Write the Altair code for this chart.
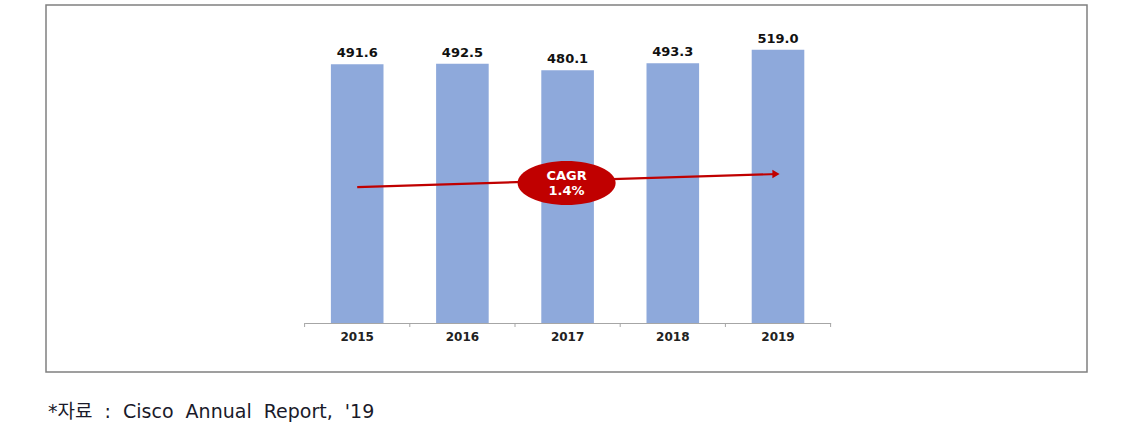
import altair as alt
import pandas as pd

years = ["2015", "2016", "2017", "2018", "2019"]
values = [491.6, 492.5, 480.1, 493.3, 519.0]
value_labels = ["491.6", "492.5", "480.1", "493.3", "519.0"]

arrow_years = ["2015", "2019"]
arrow_values = [258, 283]

cagr_years = ["2017"]
cagr_values = [266]
cagr_texts = ["CAGR\n1.4%"]

source_note = "*자료 : Cisco Annual Report, '19"

bars_df = pd.DataFrame({"year": years, "value": values, "label": value_labels})
arrow_df = pd.DataFrame({"year": arrow_years, "v": arrow_values})
head_df = pd.DataFrame({"year": arrow_years[-1:], "v": arrow_values[-1:]})
cagr_df = pd.DataFrame({"year": cagr_years, "v": cagr_values, "t": cagr_texts})
tick_df = pd.DataFrame({"year": years})
last_tick_df = pd.DataFrame({"year": years[-1:]})
one = pd.DataFrame({"a": [0]})
# wide word spacing as in the original (non-breaking spaces keep the gaps)
note_df = pd.DataFrame({"t": [source_note.replace(" ", "\u00a0\u00a0")]})

step = (830.6 - 304.6) / len(years)
xscale = alt.Scale(domain=years, range=[304.6, 830.6], paddingInner=0.5, paddingOuter=0.25)
yscale = alt.Scale(domain=[0, 613.5])

xaxis = alt.Axis(title=None, labelFont="DejaVu Sans", labelFontWeight="bold",
                 labelFontSize=12, labelColor="#222222", labelAngle=0,
                 domainColor="#a6a6a6", ticks=False, labelPadding=8, grid=False)

X = alt.X("year:N", scale=xscale, axis=xaxis, sort=years)
Y = lambda f: alt.Y(f, scale=yscale, axis=None)

frame = alt.Chart(one).mark_rect(fillOpacity=0, stroke="#808080", strokeWidth=1.5).encode(
    x=alt.value(46), x2=alt.value(1087), y=alt.value(5), y2=alt.value(372)
)

bars = alt.Chart(bars_df).mark_bar(color="#8EA9DB").encode(x=X, y=Y("value:Q"))

ticks = alt.Chart(tick_df).mark_rule(color="#a6a6a6", strokeWidth=1, xOffset=-step / 2).encode(
    x=X, y=alt.value(323), y2=alt.value(327)
)
last_tick = alt.Chart(last_tick_df).mark_rule(color="#a6a6a6", strokeWidth=1, xOffset=step / 2).encode(
    x=X, y=alt.value(323), y2=alt.value(327)
)

labels = alt.Chart(bars_df).mark_text(
    font="DejaVu Sans", fontWeight="bold", fontSize=13, color="#111111",
    baseline="bottom", dy=-4
).encode(x=X, y=Y("value:Q"), text="label:N")

arrow = alt.Chart(arrow_df).mark_line(color="#C00000", strokeWidth=2.2).encode(
    x=X, y=Y("v:Q")
)

head = alt.Chart(head_df).mark_point(
    shape="triangle-right", filled=True, color="#C00000", size=70, opacity=1, xOffset=-2
).encode(x=X, y=Y("v:Q"))

ellipse_path = "M -1 0 A 1 0.45 0 1 1 1 0 A 1 0.45 0 1 1 -1 0 Z"
ellipse = alt.Chart(cagr_df).mark_point(
    shape=ellipse_path, filled=True, color="#C00000", size=9604, opacity=1, xOffset=-1
).encode(x=X, y=Y("v:Q"))

cagr_text = alt.Chart(cagr_df).mark_text(
    font="DejaVu Sans", fontWeight="bold", fontSize=13, color="white",
    lineBreak="\n", lineHeight=15, baseline="middle", dy=-7, xOffset=-1
).encode(x=X, y=Y("v:Q"), text="t:N")

note = alt.Chart(note_df).mark_text(
    font="DejaVu Sans, Noto Sans CJK KR", fontSize=19, color="#1a1a2a",
    align="left", baseline="middle"
).encode(x=alt.value(48), y=alt.value(412), text="t:N")

chart = alt.layer(frame, bars, ticks, last_tick, labels, arrow, head, ellipse, cagr_text, note).properties(
    width=1121, height=323,
    autosize=alt.AutoSizeParams(type="none"),
    padding={"left": 0, "top": 0, "right": 0, "bottom": 123},
).configure_view(stroke=None)

chart.save("out.html", embed_options={"renderer": "svg", "actions": False})
